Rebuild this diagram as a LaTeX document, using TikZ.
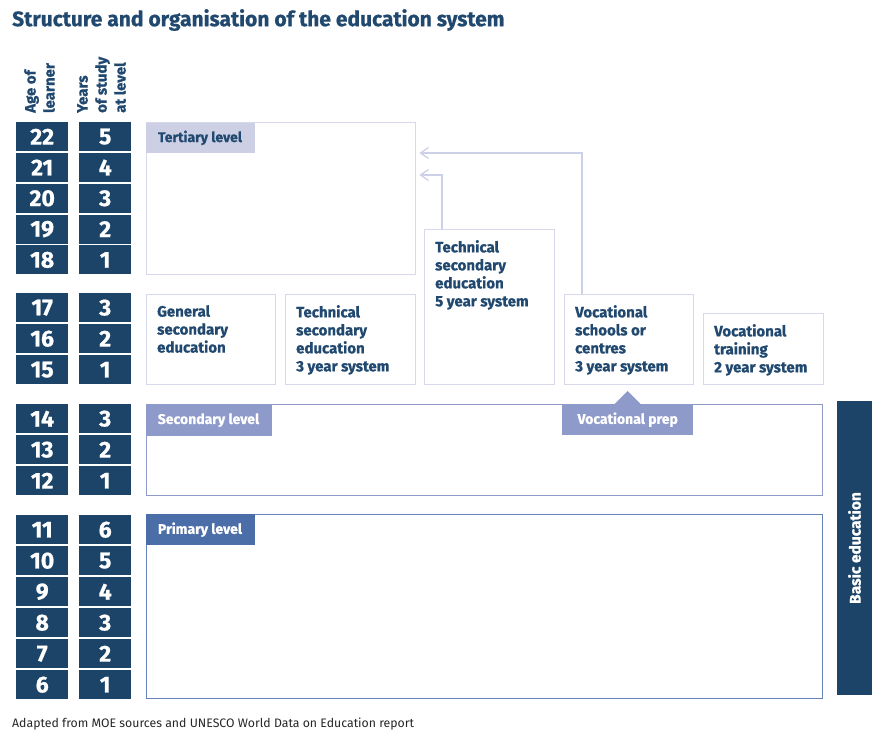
\documentclass[tikz,border=0pt]{standalone}
\usepackage{fontspec}
\setmainfont{Fira Sans}[BoldFeatures={FakeBold=0.8}]
\usetikzlibrary{arrows.meta,calc}
\definecolor{navy}{HTML}{1B4468}
\definecolor{txt}{HTML}{21496F}
\definecolor{lav}{HTML}{CDD0E5}
\definecolor{lavline}{HTML}{D6D9EC}
\definecolor{arrowc}{HTML}{CDD1E8}
\definecolor{sec}{HTML}{8E9ACA}
\definecolor{pri}{HTML}{4B6EA9}
\definecolor{priline}{HTML}{6584BE}
\begin{document}
\begin{tikzpicture}[x=1pt,y=-1pt,
  numbox/.style={fill=navy, text=white, font=\fontsize{23}{23}\selectfont\bfseries,
    minimum width=52pt, minimum height=29pt, inner sep=0pt, anchor=north west},
  frame/.style={line width=1.4pt, anchor=north west, inner sep=0pt},
  boxtext/.style={anchor=north west, text=txt, font=\fontsize{15}{18}\selectfont\bfseries,
    align=left, inner sep=0pt},
  tab/.style={anchor=north west, inner sep=0pt, font=\fontsize{14}{14}\selectfont\bfseries},
  head/.style={rotate=90, anchor=north west, inner sep=0pt, align=left, text=txt,
    font=\fontsize{15}{19}\selectfont\bfseries},
  link/.style={draw=arrowc, line width=1.4pt, -{Straight Barb[length=8pt,width=11pt,line width=1.3pt]}, shorten >=3pt}
]
\useasboundingbox (0,0) rectangle (872,733);

% title
\node[anchor=west, inner sep=0pt, text=txt, font=\fontsize{21}{21}\selectfont\bfseries] (title) at (12,20)
  {Structure and organisation of the education system};

% column heads
\node[head] (hage) at (24,113) {Age of\\learner};
\node[head] (hyears) at (77,113) {Years\\of study\\at level};

% number boxes
\foreach \a/\yr/\yt in {22/5/122, 21/4/152.8, 20/3/183.6, 19/2/214.4, 18/1/245.2,
  17/3/293, 16/2/324, 15/1/355,
  14/3/404, 13/2/435, 12/1/466,
  11/6/515, 10/5/546, 9/4/577, 8/3/608, 7/2/639, 6/1/670}{
  \node[numbox] (age\a) at (16,\yt) {\a};
  \node[numbox] (yr\a) at (79,\yt) {\yr};
}

% tertiary level
\node[frame, draw=lavline, minimum width=269pt, minimum height=152pt] (tert) at (146,122) {};
\node[tab, fill=lav, text=txt, minimum width=109pt, minimum height=30pt] (terttab) at (145.3,122.7) {Tertiary level};

% upper secondary boxes
\node[frame, draw=lavline, minimum width=129pt, minimum height=90pt] (gen) at (146,294) {};
\node[boxtext] (gent) at ([xshift=11pt,yshift=-11pt]gen.north west) {General\\secondary\\education};

\node[frame, draw=lavline, minimum width=130pt, minimum height=90pt] (tech3) at (285,294) {};
\node[boxtext] (tech3t) at ([xshift=11pt,yshift=-11pt]tech3.north west) {Technical\\secondary\\education\\3 year system};

\node[frame, draw=lavline, minimum width=130pt, minimum height=155pt] (tech5) at (424,229) {};
\node[boxtext] (tech5t) at ([xshift=11pt,yshift=-11pt]tech5.north west) {Technical\\secondary\\education\\5 year system};

\node[frame, draw=lavline, minimum width=129pt, minimum height=90pt] (voc) at (564,294) {};
\node[boxtext] (voct) at ([xshift=11pt,yshift=-11pt]voc.north west) {Vocational\\schools or\\centres\\3 year system};

\node[frame, draw=lavline, minimum width=120pt, minimum height=71pt] (vtr) at (703,313) {};
\node[boxtext] (vtrt) at ([xshift=11pt,yshift=-11pt]vtr.north west) {Vocational\\training\\2 year system};

% connectors to tertiary
\draw[link] ([xshift=18pt]tech5.north west) |- ([yshift=-53pt]tert.north east);
\draw[link] ([xshift=18pt]voc.north west) |- ([yshift=-31pt]tert.north east);

% lower secondary
\node[frame, draw=sec, minimum width=676pt, minimum height=91pt] (secbox) at (146,404) {};
\node[tab, fill=sec, text=white, minimum width=126pt, minimum height=32pt] (sectab) at (145.3,404) {Secondary level};
\node[tab, fill=sec, text=white, minimum width=131pt, minimum height=31pt] (vprep) at (562,404) {Vocational prep};
\fill[sec] ([xshift=-13pt]vprep.north) -- ([yshift=13pt]vprep.north) -- ([xshift=13pt]vprep.north) -- cycle;

% primary
\node[frame, draw=priline, minimum width=676pt, minimum height=184pt] (pribox) at (146,514) {};
\node[tab, fill=pri, text=white, minimum width=109pt, minimum height=31pt] (pritab) at (145.3,514) {Primary level};

% basic education bar
\node[fill=navy, text=white, rotate=90, minimum width=294pt, minimum height=35pt, inner sep=0pt,
  font=\fontsize{15.5}{15.5}\selectfont\bfseries] (basic) at (854.5,548) {Basic education};

% source
\node[anchor=west, inner sep=0pt, text=black!85, font=\fontsize{12.3}{12.3}\selectfont] (src) at (12,724)
  {Adapted from MOE sources and UNESCO World Data on Education report};
\end{tikzpicture}
\end{document}
